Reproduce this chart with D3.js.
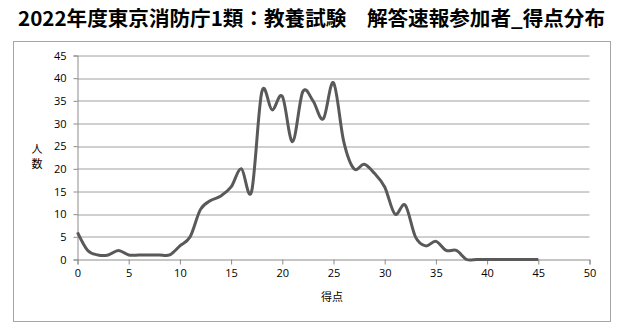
<!DOCTYPE html>
<html>
<head>
<meta charset="utf-8">
<script src="https://cdn.jsdelivr.net/npm/d3@7"></script>
<style>
  body { margin: 0; background: #fff; }
  svg text { font-family: "Open Sans", "Noto Sans CJK JP", sans-serif; }
</style>
</head>
<body>
<div id="my_dataviz"></div>
<script>
// data
const scores = d3.range(0, 46);
const counts = [6, 2, 1, 1, 2, 1, 1, 1, 1, 1,
                3, 5, 11, 13, 14, 16, 20, 15, 37, 33,
                36, 26, 37, 35, 31, 39, 26, 20, 21, 19,
                16, 10, 12, 5, 3, 4, 2, 2, 0, 0,
                0, 0, 0, 0, 0, 0];
const xTicks = [0, 5, 10, 15, 20, 25, 30, 35, 40, 45, 50];
const yTicks = [0, 5, 10, 15, 20, 25, 30, 35, 40, 45];
const title = "2022年度東京消防庁1類：教養試験　解答速報参加者_得点分布";

const W = 622, H = 335;
const margin = {top: 55.5, right: 32.5, bottom: 75.5, left: 77.5},
    width = W - margin.left - margin.right,
    height = H - margin.top - margin.bottom;

const root = d3.select("#my_dataviz")
  .append("svg")
    .attr("width", W)
    .attr("height", H);

// title
root.append("text")
  .attr("x", 18)
  .attr("y", 26)
  .attr("textLength", 587)
  .attr("lengthAdjust", "spacingAndGlyphs")
  .style("font-family", "'Noto Sans CJK JP', sans-serif")
  .style("font-weight", "bold")
  .style("font-size", "20px")
  .attr("fill", "#000")
  .text(title);

// chart frame
root.append("rect")
  .attr("x", 13.5).attr("y", 41.5)
  .attr("width", 597).attr("height", 280)
  .attr("fill", "none")
  .attr("stroke", "#a6a6a6");

const svg = root.append("g")
  .attr("transform", `translate(${margin.left},${margin.top})`);

const x = d3.scaleLinear().domain([0, 50]).range([0, width]);
const y = d3.scaleLinear().domain([0, 45]).range([height, 0]);

// gridlines
svg.append("g")
  .selectAll("line")
  .data(yTicks.filter(d => d > 0))
  .join("line")
    .attr("x1", 0).attr("x2", width)
    .attr("y1", d => Math.round(y(d)) + 0.5)
    .attr("y2", d => Math.round(y(d)) + 0.5)
    .attr("stroke", "#a0a0a0");

// X axis
const xAxis = svg.append("g")
  .attr("transform", `translate(0, ${height})`)
  .call(d3.axisBottom(x).tickValues(xTicks).tickSize(5).tickPadding(5));
xAxis.select(".domain").attr("stroke", "#8c8c8c");
xAxis.selectAll(".tick line").attr("stroke", "#8c8c8c");
xAxis.selectAll("text").style("font-size", "11px").attr("fill", "#000");

// Y axis
const yAxis = svg.append("g")
  .call(d3.axisLeft(y).tickValues(yTicks).tickSize(4).tickPadding(7));
yAxis.select(".domain").attr("stroke", "#8c8c8c");
yAxis.selectAll(".tick line").attr("stroke", "#8c8c8c");
yAxis.selectAll("text").style("font-size", "11px").attr("fill", "#000");

// axis titles
root.append("text")
  .attr("x", 332).attr("y", 301)
  .attr("text-anchor", "middle")
  .style("font-family", "'Noto Sans CJK JP', sans-serif")
  .style("font-size", "11px")
  .text("得点");

root.append("g")
  .selectAll("text")
  .data(["人", "数"])
  .join("text")
    .attr("x", 37)
    .attr("y", (d, i) => 153 + i * 15)
    .attr("text-anchor", "middle")
    .style("font-family", "'Noto Sans CJK JP', sans-serif")
    .style("font-size", "11px")
    .text(d => d);

// line
const line = d3.line()
  .x((d, i) => x(scores[i]))
  .y(d => y(d))
  .curve(d3.curveCardinal.tension(0));

svg.append("path")
  .datum(counts)
  .attr("fill", "none")
  .attr("stroke", "#595959")
  .attr("stroke-width", 3)
  .attr("stroke-linejoin", "round")
  .attr("d", line);
</script>
</body>
</html>
